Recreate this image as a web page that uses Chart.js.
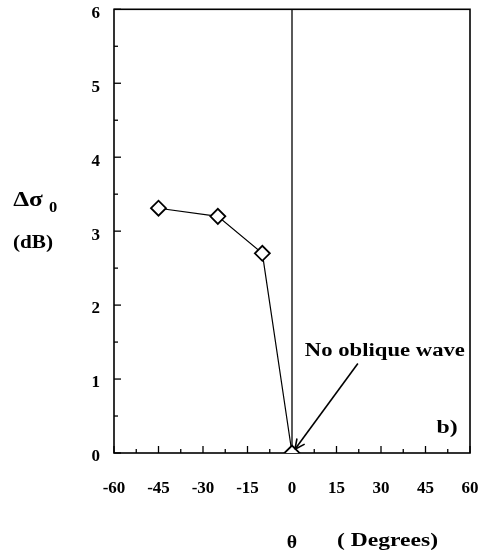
<!DOCTYPE html>
<html>
<head>
<meta charset="utf-8">
<script src="https://cdn.jsdelivr.net/npm/chart.js@4/dist/chart.umd.min.js"></script>
<style>
  html, body { margin: 0; padding: 0; background: #fff; }
</style>
</head>
<body>
<canvas id="chart" width="485" height="556"></canvas>
<script>
// data
const angles = [-45, -25, -10, 0];
const deltaSigma = [3.31, 3.20, 2.70, 0];
const xTicks = [-60, -45, -30, -15, 0, 15, 30, 45, 60];
const yTicks = [0, 1, 2, 3, 4, 5, 6];
const xMinorStep = 7.5;
const yMinorStep = 0.5;

// annotation, in data units
const noteText = 'No oblique wave';
const notePos = [31.3, 1.38];
const arrowFrom = [22.2, 1.21];
const arrowTo = [1.0, 0.05];

const serif = "'Liberation Serif', 'Times New Roman', serif";

function line(ctx, x1, y1, x2, y2) {
  ctx.beginPath();
  ctx.moveTo(x1, y1);
  ctx.lineTo(x2, y2);
  ctx.stroke();
}

// the scanned figure uses a wide bold serif, so stretch text a bit
function txt(ctx, s, x, y, size, align, sx) {
  ctx.save();
  ctx.translate(x, y);
  ctx.scale(sx || 1.25, 1);
  ctx.font = 'bold ' + size + 'px ' + serif;
  ctx.textAlign = align || 'center';
  ctx.textBaseline = 'middle';
  ctx.fillText(s, 0, 0);
  ctx.restore();
}

const framePlugin = {
  id: 'frame',
  beforeDatasetsDraw(chart) {
    const { ctx, chartArea: a, scales: { x, y } } = chart;
    ctx.save();
    ctx.strokeStyle = '#000';
    ctx.lineWidth = 1.6;
    ctx.strokeRect(a.left, a.top, a.right - a.left, a.bottom - a.top);

    // inward tick marks
    ctx.lineWidth = 1.3;
    for (let v = x.min; v <= x.max; v += xMinorStep) {
      const px = x.getPixelForValue(v);
      const len = v % 15 === 0 ? 7 : 4;
      line(ctx, px, a.bottom, px, a.bottom - len);
    }
    for (let v = y.min; v <= y.max; v += yMinorStep) {
      const py = y.getPixelForValue(v);
      const len = v % 1 === 0 ? 7 : 4;
      line(ctx, a.left, py, a.left + len, py);
    }

    // zero line
    ctx.lineWidth = 1.3;
    const x0 = x.getPixelForValue(0);
    line(ctx, x0, a.top, x0, a.bottom);
    ctx.restore();
  },
  afterDatasetsDraw(chart) {
    const { ctx, chartArea: a, scales: { x, y } } = chart;
    ctx.save();
    ctx.fillStyle = '#000';
    ctx.strokeStyle = '#000';

    // arrow to the 0 point
    const fx = x.getPixelForValue(arrowFrom[0]), fy = y.getPixelForValue(arrowFrom[1]);
    const tx = x.getPixelForValue(arrowTo[0]), ty = y.getPixelForValue(arrowTo[1]);
    ctx.lineWidth = 1.6;
    line(ctx, fx, fy, tx, ty);
    const ang = Math.atan2(ty - fy, tx - fx);
    const head = 11;
    [-0.45, 0.45].forEach(d => {
      line(ctx, tx, ty, tx - head * Math.cos(ang + d), ty - head * Math.sin(ang + d));
    });

    txt(ctx, noteText, x.getPixelForValue(notePos[0]), y.getPixelForValue(notePos[1]), 18, 'center', 1.26);
    txt(ctx, 'b)', a.right - 23, a.bottom - 25, 19, 'center', 1.25);

    // axis titles
    txt(ctx, '\u0394\u03c3', 28, 200, 22, 'center', 1.15);
    txt(ctx, '0', 53, 208, 15, 'center', 1.1);
    txt(ctx, '(dB)', 33, 243, 18, 'center', 1.18);
    txt(ctx, '\u03b8', x.getPixelForValue(0), 543, 18, 'center', 1.1);
    txt(ctx, '( Degrees)', 337, 541, 18, 'left', 1.31);
    ctx.restore();
  }
};

// keep the plot box where it sits in the figure (no label overhang padding)
function noOverhang(s) {
  s.paddingTop = 0;
  s.paddingBottom = 0;
  s.paddingLeft = 0;
  s.paddingRight = 0;
}

new Chart(document.getElementById('chart'), {
  type: 'line',
  data: {
    datasets: [{
      data: angles.map((a, i) => ({ x: a, y: deltaSigma[i] })),
      borderColor: '#000',
      borderWidth: 1.2,
      tension: 0,
      pointStyle: 'rectRot',
      pointRadius: 7.5,
      pointBackgroundColor: '#fff',
      pointBorderColor: '#000',
      pointBorderWidth: 1.8
    }]
  },
  options: {
    responsive: false,
    animation: false,
    events: [],
    layout: { padding: { top: 6, right: 15, left: 0, bottom: 0 } },
    plugins: { legend: { display: false }, tooltip: { enabled: false } },
    scales: {
      x: {
        type: 'linear',
        min: -60,
        max: 60,
        afterBuildTicks: s => { s.ticks = xTicks.map(v => ({ value: v })); },
        afterFit: s => { s.height = 103; noOverhang(s); },
        grid: { display: false, drawTicks: false },
        border: { display: false },
        ticks: {
          color: '#000',
          padding: 25,
          maxRotation: 0,
          font: { family: serif, size: 17, weight: 'bold' }
        }
      },
      y: {
        min: 0,
        max: 6,
        afterBuildTicks: s => { s.ticks = yTicks.map(v => ({ value: v })); },
        afterFit: s => { s.width = 114; noOverhang(s); },
        grid: { display: false, drawTicks: false },
        border: { display: false },
        ticks: {
          color: '#000',
          padding: 14,
          labelOffset: 4,
          font: { family: serif, size: 17, weight: 'bold' }
        }
      }
    }
  },
  plugins: [framePlugin]
});
</script>
</body>
</html>
